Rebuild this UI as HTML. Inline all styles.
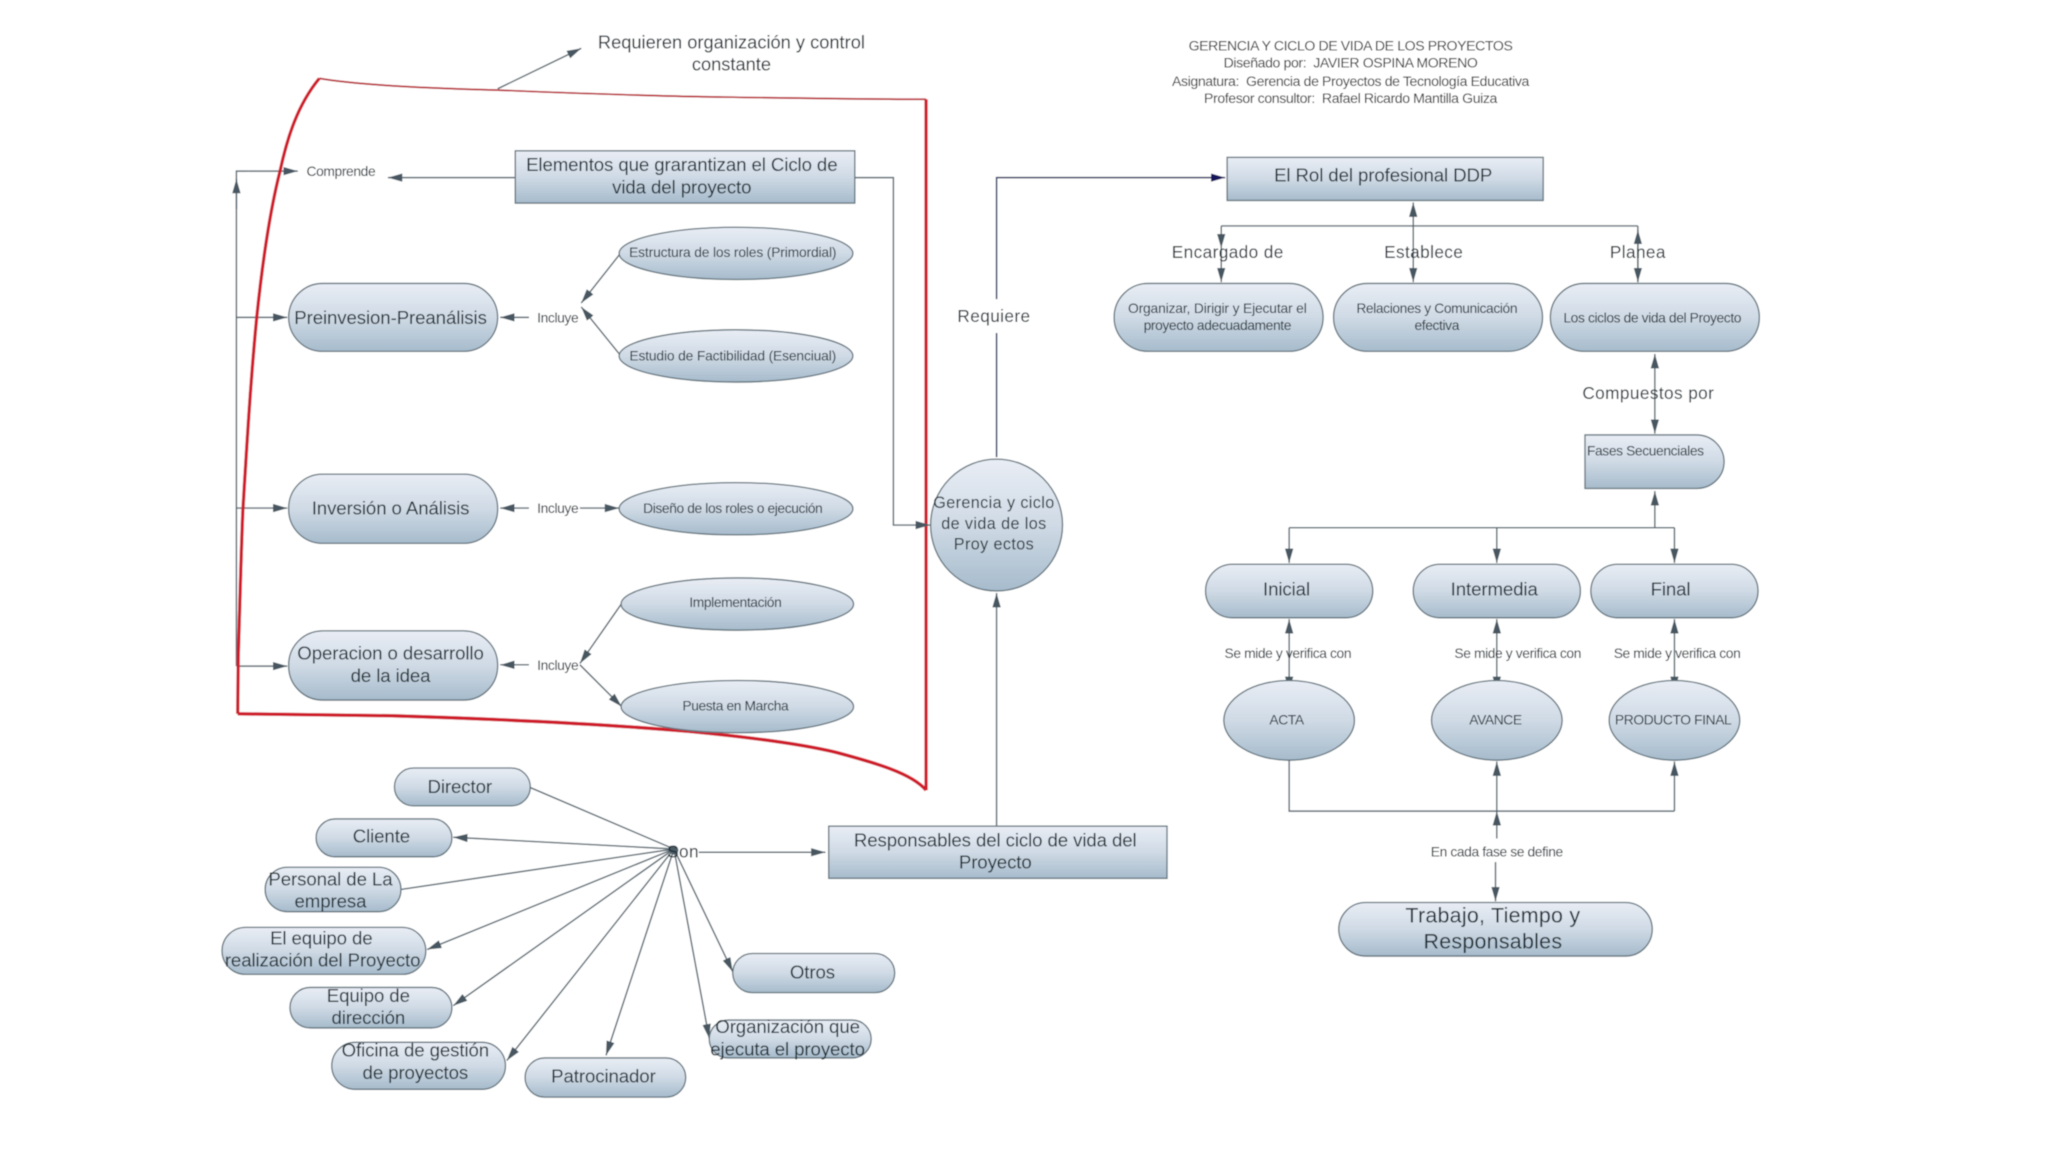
<!DOCTYPE html>
<html><head><meta charset="utf-8"><title>Gerencia y ciclo de vida de los proyectos</title>
<style>
html,body{margin:0;padding:0;background:#fff;width:2048px;height:1152px;overflow:hidden}
svg{display:block}
text{font-family:"Liberation Sans",sans-serif;fill:#1f2a31;text-anchor:middle;dominant-baseline:central}
.n{font-size:14.3px;letter-spacing:-.08px}
.s{font-size:10.6px;letter-spacing:-.3px}
.s2{font-size:10.6px;letter-spacing:-.12px}
.t{font-size:10.8px;letter-spacing:-.3px;fill:#2c2c2c}
.l{font-size:13.2px;letter-spacing:.3px}
.g{fill:url(#g);stroke:#5f7079;stroke-width:1}
.c{fill:none;stroke:#56666f;stroke-width:1.1}
.ar{marker-end:url(#a)}
.ab{marker-start:url(#as);marker-end:url(#a)}
</style></head><body>
<svg width="2048" height="1152" viewBox="0 0 1568 882" xmlns="http://www.w3.org/2000/svg">
<defs>
<linearGradient id="g" x1="0" y1="0" x2="0" y2="1"><stop offset="0" stop-color="#e9edf5"/><stop offset=".5" stop-color="#cfdae5"/><stop offset="1" stop-color="#a6bbcc"/></linearGradient>
<marker id="a" markerUnits="userSpaceOnUse" markerWidth="12" markerHeight="8" refX="11" refY="4" orient="auto"><path d="M0,.8L11,4L0,7.2Z" fill="#465760"/></marker>
<marker id="as" markerUnits="userSpaceOnUse" markerWidth="12" markerHeight="8" refX="0" refY="4" orient="auto"><path d="M11,.8L0,4L11,7.2Z" fill="#465760"/></marker>
<marker id="an" markerUnits="userSpaceOnUse" markerWidth="12" markerHeight="8" refX="11" refY="4" orient="auto"><path d="M0,.8L11,4L0,7.2Z" fill="#14145a"/></marker>
<filter id="b" x="0" y="0" width="100%" height="100%"><feGaussianBlur stdDeviation=".42"/></filter>
</defs>
<g filter="url(#b)">
<rect width="1568" height="882" fill="#fff"/>

<!-- left connectors drawn first, red boundary over them -->
<path class="c" d="M181,510L181,131L190,131"/>
<path class="c ar" d="M181,160L181,137"/>
<path class="c ar" d="M190,131L228,131"/>
<path class="c ar" d="M181,243L220,243"/>
<path class="c ar" d="M181,389L220,389"/>
<path class="c ar" d="M181,510L220,510"/>

<!-- red boundary -->
<path d="M182,546.500L182.400,503C184,450 185,410 186,390C189,340 192,290 196.500,243.600C201,200 207,160 214.400,131C220,105 228,80 244.500,60" fill="none" stroke="#cf1f2b" stroke-width="2.500"/>
<path d="M244.500,60C280,66 340,68 381,69C430,71 480,73 534,74C600,75 660,76 709,76" fill="none" stroke="#b8242c" stroke-width="1.300"/>
<path d="M709,76L709,605" fill="none" stroke="#cf1f2b" stroke-width="2.500"/>
<path d="M182,546.500L300,548C400,551 480,556 528,560C580,565 615,570 640,576C670,584 698,592 709,605" fill="none" stroke="#cf1f2b" stroke-width="2.600"/>
<path class="c ar" d="M381,68L445,37"/>
<text x="560" y="32" style="font-size:14px">Requieren organización y control</text>
<text x="560" y="49" style="font-size:14px">constante</text>

<!-- title -->
<text class="t" x="1034" y="35">GERENCIA Y CICLO DE VIDA DE LOS PROYECTOS</text>
<text class="t" x="1034" y="48">Diseñado por:&#160; JAVIER OSPINA MORENO</text>
<text class="t" x="1034" y="62">Asignatura:&#160; Gerencia de Proyectos de Tecnología Educativa</text>
<text class="t" x="1034" y="75">Profesor consultor:&#160; Rafael Ricardo Mantilla Guiza</text>

<path class="c ar" d="M394,136L297,136"/>
<path class="c ar" d="M654,136L684,136L684,402L712,402"/>
<path class="c ar" d="M405,243L383,243"/>
<path class="c ar" d="M405,389L383,389"/>
<path class="c ar" d="M405,509L383,509"/>
<path class="c ar" d="M444,389L474,389"/>
<path class="c ar" d="M475,194L445,232"/>
<path class="c ar" d="M475,272L445,235"/>
<path class="c ar" d="M476,462L444,508"/>
<path class="c ar" d="M444,509L476,541"/>

<rect class="g" x="394.500" y="115.500" width="260" height="40"/>
<text class="n" x="522" y="126">Elementos que grarantizan el Ciclo de</text>
<text class="n" x="522" y="143">vida del proyecto</text>
<text class="s" x="261" y="131">Comprende</text>

<rect class="g" x="221" y="217" width="160" height="52" rx="26"/>
<text class="n" x="299" y="243">Preinvesion-Preanálisis</text>
<rect class="g" x="221" y="363" width="160" height="53" rx="26"/>
<text class="n" x="299" y="389">Inversión o Análisis</text>
<rect class="g" x="221" y="483" width="160" height="53" rx="26"/>
<text class="n" x="299" y="500">Operacion o desarrollo</text>
<text class="n" x="299" y="517">de la idea</text>
<text class="s" x="427" y="243">Incluye</text>
<text class="s" x="427" y="389">Incluye</text>
<text class="s" x="427" y="509">Incluye</text>

<ellipse class="g" cx="563.500" cy="194" rx="89.500" ry="20"/>
<text class="s2" x="561" y="193">Estructura de los roles (Primordial)</text>
<ellipse class="g" cx="563.500" cy="272.500" rx="89.500" ry="20"/>
<text class="s2" x="561" y="272">Estudio de Factibilidad (Esenciual)</text>
<ellipse class="g" cx="563.500" cy="389.500" rx="89.500" ry="20"/>
<text class="s" x="561" y="389">Diseño de los roles o ejecución</text>
<ellipse class="g" cx="564.500" cy="462.500" rx="89" ry="20"/>
<text class="s" x="563" y="461">Implementación</text>
<ellipse class="g" cx="564.500" cy="541" rx="89" ry="20"/>
<text class="s" x="563" y="540">Puesta en Marcha</text>

<!-- centre -->
<path class="c ar" d="M763,632L763,454"/>
<path d="M763,350L763,255M763,229L763,136L938,136" fill="none" stroke="#1f2a55" stroke-width="1.100" marker-end="url(#an)"/>
<text class="l" x="761" y="242">Requiere</text>
<circle class="g" cx="763" cy="402" r="50.500"/>
<text class="l" x="761" y="385" style="font-size:12.4px">Gerencia y  ciclo</text>
<text class="l" x="761" y="401" style="font-size:12.4px">de vida de los</text>
<text class="l" x="761" y="417" style="font-size:12.4px">Proy ectos</text>

<!-- right top -->
<path class="c" d="M935,173L1254,173"/>
<path class="c ar" d="M935,173L935,190"/>
<path class="c ar" d="M935,190L935,216"/>
<path class="c ab" d="M1082,155L1082,216"/>
<path class="c" d="M1254,173L1254,216"/>
<path class="c ar" d="M1254,195L1254,176"/>
<path class="c ar" d="M1254,195L1254,216"/>
<rect class="g" x="939.500" y="120.500" width="242" height="33"/>
<text class="n" x="1059" y="134">El Rol del profesional DDP</text>
<text class="l" x="940" y="193">Encargado de</text>
<text class="l" x="1090" y="193">Establece</text>
<text class="l" x="1254" y="193">Planea</text>
<rect class="g" x="853" y="217" width="160" height="52" rx="26"/>
<text class="s2" x="932" y="236">Organizar, Dirigir y Ejecutar el</text>
<text class="s" x="932" y="249">proyecto adecuadamente</text>
<rect class="g" x="1021" y="217" width="160" height="52" rx="26"/>
<text class="s" x="1100" y="236">Relaciones y Comunicación</text>
<text class="s" x="1100" y="249">efectiva</text>
<rect class="g" x="1187" y="217" width="160" height="52" rx="26"/>
<text class="s" x="1265" y="243">Los ciclos de vida del Proyecto</text>
<path class="c ab" d="M1267,271L1267,332"/>
<text class="l" x="1262" y="301">Compuestos por</text>
<path class="g" d="M1213.500,333H1299a21,20.500 0 0 1 0,41H1213.500Z"/>
<text class="s" x="1215" y="345" style="text-anchor:start">Fases Secuenciales</text>

<!-- phases -->
<path class="c" d="M987,404L1282,404"/>
<path class="c ar" d="M1267,404L1267,376"/>
<path class="c ar" d="M987,404L987,431"/>
<path class="c ar" d="M1146,404L1146,431"/>
<path class="c ar" d="M1282,404L1282,431"/>
<rect class="g" x="923" y="432" width="128" height="41" rx="20.500"/>
<text class="n" x="985" y="451">Inicial</text>
<rect class="g" x="1082" y="432" width="128" height="41" rx="20.500"/>
<text class="n" x="1144" y="451">Intermedia</text>
<rect class="g" x="1218" y="432" width="128" height="41" rx="20.500"/>
<text class="n" x="1279" y="451">Final</text>
<path class="c ab" d="M987,474L987,529"/>
<path class="c ab" d="M1146,474L1146,529"/>
<path class="c ab" d="M1282,474L1282,529"/>
<text class="s" x="986" y="500">Se mide y verifica con</text>
<text class="s" x="1162" y="500">Se mide y verifica con</text>
<text class="s" x="1284" y="500">Se mide y verifica con</text>
<ellipse class="g" cx="987" cy="551.500" rx="50" ry="30.500"/>
<text class="s" x="985" y="551">ACTA</text>
<ellipse class="g" cx="1146" cy="551.500" rx="50" ry="30.500"/>
<text class="s" x="1145" y="551">AVANCE</text>
<ellipse class="g" cx="1282" cy="551.500" rx="50" ry="30.500"/>
<text class="s" x="1281" y="551">PRODUCTO FINAL</text>
<path class="c" d="M987,582L987,621L1282,621"/>
<path class="c ar" d="M1282,621L1282,583"/>
<path class="c ar" d="M1146,621L1146,583"/>
<path class="c ar" d="M1146,642L1146,621"/>
<path class="c ar" d="M1145,660L1145,690"/>
<text class="s" x="1146" y="652">En cada fase se define</text>
<rect class="g" x="1025" y="691" width="240" height="41" rx="20.500"/>
<text x="1143" y="701" style="font-size:16.400px;letter-spacing:.2px">Trabajo, Tiempo y</text>
<text x="1143" y="721" style="font-size:16.400px;letter-spacing:.2px">Responsables</text>

<!-- bottom left -->
<rect class="g" x="634.500" y="632.500" width="259" height="40"/>
<text class="n" x="762" y="643">Responsables del ciclo de vida del</text>
<text class="n" x="762" y="660">Proyecto</text>
<path class="c ar" d="M535,652.500L632,652.500"/>
<path class="c" d="M406,603L516,650"/>
<path class="c ar" d="M516,650L347,641"/>
<path class="c" d="M307,681L516,650"/>
<path class="c ar" d="M516,650L327,727"/>
<path class="c ar" d="M516,650L347,770"/>
<path class="c ar" d="M516,650L388,812"/>
<path class="c ar" d="M516,650L464,808"/>
<path class="c ar" d="M516,650L543,795"/>
<path class="c ar" d="M516,650L561,744"/>
<circle cx="516" cy="651" r="3.400" fill="#4b5c66"/>
<text class="l" x="523" y="652">Son</text>
<rect class="g" x="302" y="588" width="104" height="29" rx="14.500"/>
<text class="n" x="352" y="602">Director</text>
<rect class="g" x="242" y="627" width="104" height="29" rx="14.500"/>
<text class="n" x="292" y="640">Cliente</text>
<rect class="g" x="203" y="664" width="104" height="34" rx="17"/>
<text class="n" x="253" y="673">Personal de La</text>
<text class="n" x="253" y="690">empresa</text>
<rect class="g" x="170" y="710" width="156" height="36" rx="18"/>
<text class="n" x="246" y="718">El equipo de</text>
<text class="n" x="247" y="735">realización del Proyecto</text>
<rect class="g" x="222" y="756" width="124" height="31" rx="15.500"/>
<text class="n" x="282" y="762">Equipo de</text>
<text class="n" x="282" y="779">dirección</text>
<rect class="g" x="254" y="798" width="133" height="36" rx="18"/>
<text class="n" x="318" y="804">Oficina de gestión</text>
<text class="n" x="318" y="821">de proyectos</text>
<rect class="g" x="402" y="810" width="123" height="30" rx="15"/>
<text class="n" x="462" y="824">Patrocinador</text>
<rect class="g" x="543" y="781" width="124" height="29" rx="14.500"/>
<text class="n" x="603" y="786">Organización que</text>
<text class="n" x="603" y="803">ejecuta el proyecto</text>
<rect class="g" x="561" y="730" width="124" height="30" rx="15"/>
<text class="n" x="622" y="744">Otros</text>
</g>
</svg>
</body></html>
